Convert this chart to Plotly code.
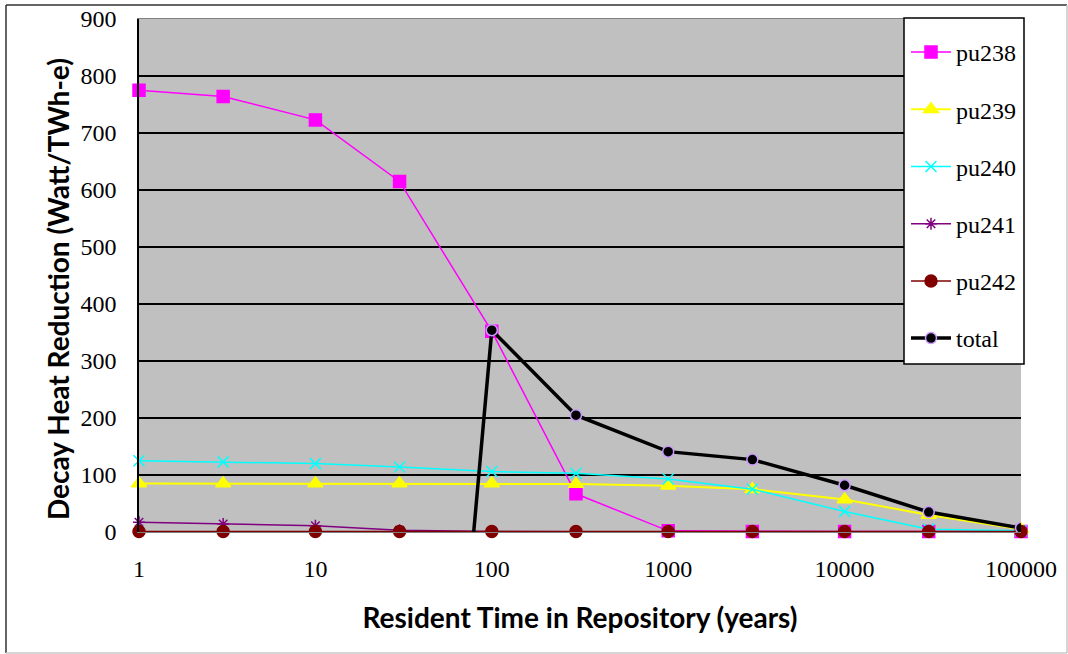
import plotly.graph_objects as go

years = [1, 3, 10, 30, 100, 300, 1000, 3000, 10000, 30000, 100000]
pu238 = [775, 764, 723, 615, 352, 67, 2, 1, 1, 1, 1]
pu239 = [85, 85, 85, 85, 85, 84, 81, 75, 57, 30, 5]
pu240 = [125, 123, 120, 114, 106, 103, 93, 75, 36, 5, 2]
pu241 = [17, 14, 11, 3, 1, 0.5, 0.3, 0.2, 0.1, 0.1, 0.1]
pu242 = [1, 1, 1, 1, 1, 1, 1, 1, 1, 1, 1]
total = [None, None, None, -1450, 354, 205, 141, 127, 82, 35, 7]

x_ticks = [1, 10, 100, 1000, 10000, 100000]
x_ticktext = ["1", "10", "100", "1000", "10000", "100000"]
y_ticks = [0, 100, 200, 300, 400, 500, 600, 700, 800, 900]

x_title = "Resident Time in Repository (years)"
y_title = "Decay Heat Reduction (Watt/TWh-e)"

serif = "Liberation Serif, DejaVu Serif, serif"
sans_bold = "Lato, Open Sans, Liberation Sans, sans-serif"

fig = go.Figure()

series = [
    ("pu238", pu238, "#FF00FF", "square", 12, 1.5),
    ("pu239", pu239, "#FFFF00", "triangle-up", 13, 2),
    ("pu240", pu240, "#00FFFF", "x-thin-open", 11, 1.5),
    ("pu241", pu241, "#800080", "asterisk-open", 10, 1.5),
    ("pu242", pu242, "#800000", "circle", 12, 1.5),
]
for name, vals, col, sym, size, lw in series:
    fig.add_trace(go.Scatter(
        x=years, y=vals, name=name, mode="lines+markers",
        line=dict(color=col, width=lw),
        marker=dict(symbol=sym, size=size, color=col,
                    line=dict(color=col, width=1.5)),
        legendgroup=name, cliponaxis=False,
    ))

fig.add_trace(go.Scatter(
    x=years, y=total, name="total", mode="lines+markers",
    line=dict(color="black", width=3.5),
    marker=dict(symbol="circle", size=11, color="black",
                line=dict(color="#CC99FF", width=1.5)),
    legendgroup="total", connectgaps=False,
))

L, R, T, B = 139, 1021, 19, 532
def px(xp):
    return (xp - L) / (R - L)
def py(yp):
    return (B - yp) / (B - T)

fig.update_layout(
    width=1068, height=654,
    margin=dict(l=139, r=47, t=19, b=122, autoexpand=False),
    paper_bgcolor="white",
    plot_bgcolor="#C0C0C0",
    showlegend=True,
    legend=dict(
        x=px(906), y=py(30), xanchor="left", yanchor="top",
        bgcolor="rgba(0,0,0,0)", borderwidth=0,
        font=dict(family=serif, size=24, color="black"),
        tracegroupgap=23, itemwidth=40, maxheight=640,
    ),
    xaxis=dict(
        type="log", range=[0, 5],
        tickvals=x_ticks, ticktext=x_ticktext,
        showgrid=False, zeroline=False,
        showline=True, linecolor="#808080", linewidth=1, mirror=True,
        ticks="", ticklabelstandoff=15,
        tickfont=dict(family=serif, size=24, color="black"),
        title=dict(text=x_title,
                   font=dict(family=sans_bold, size=28, color="black", weight="bold"),
                   standoff=27),
    ),
    yaxis=dict(
        range=[0, 900], tickvals=y_ticks,
        showgrid=True, gridcolor="black", gridwidth=1.5,
        zeroline=False, showline=True, linecolor="black", linewidth=1.5,
        ticks="", ticklabelstandoff=16,
        tickfont=dict(family=serif, size=24, color="black"),
    ),
)

fig.add_annotation(text=y_title, xref="paper", yref="paper",
                   x=px(58), y=py(289), xanchor="center", yanchor="middle",
                   textangle=-90, showarrow=False,
                   font=dict(family=sans_bold, size=28, color="black", weight="bold"))

# legend box
fig.add_shape(type="rect", xref="paper", yref="paper", layer="above",
              x0=px(904), x1=px(1024), y0=py(364), y1=py(18),
              fillcolor="white", line=dict(color="black", width=1.5))

# outer chart frame
fig.add_shape(type="line", xref="paper", yref="paper",
              x0=px(6), x1=px(6), y0=py(653), y1=py(5), line=dict(color="#303030", width=1.5))
fig.add_shape(type="line", xref="paper", yref="paper",
              x0=px(6), x1=px(1067), y0=py(5), y1=py(5), line=dict(color="#303030", width=1.5))
fig.add_shape(type="line", xref="paper", yref="paper",
              x0=px(6), x1=px(1067), y0=py(653), y1=py(653), line=dict(color="#C8C8C8", width=1.5))
fig.add_shape(type="line", xref="paper", yref="paper",
              x0=px(1067), x1=px(1067), y0=py(653), y1=py(5), line=dict(color="#C8C8C8", width=1.5))

fig.write_html("out.html", config={"displayModeBar": False},
               post_script="document.body.style.margin='0';")
